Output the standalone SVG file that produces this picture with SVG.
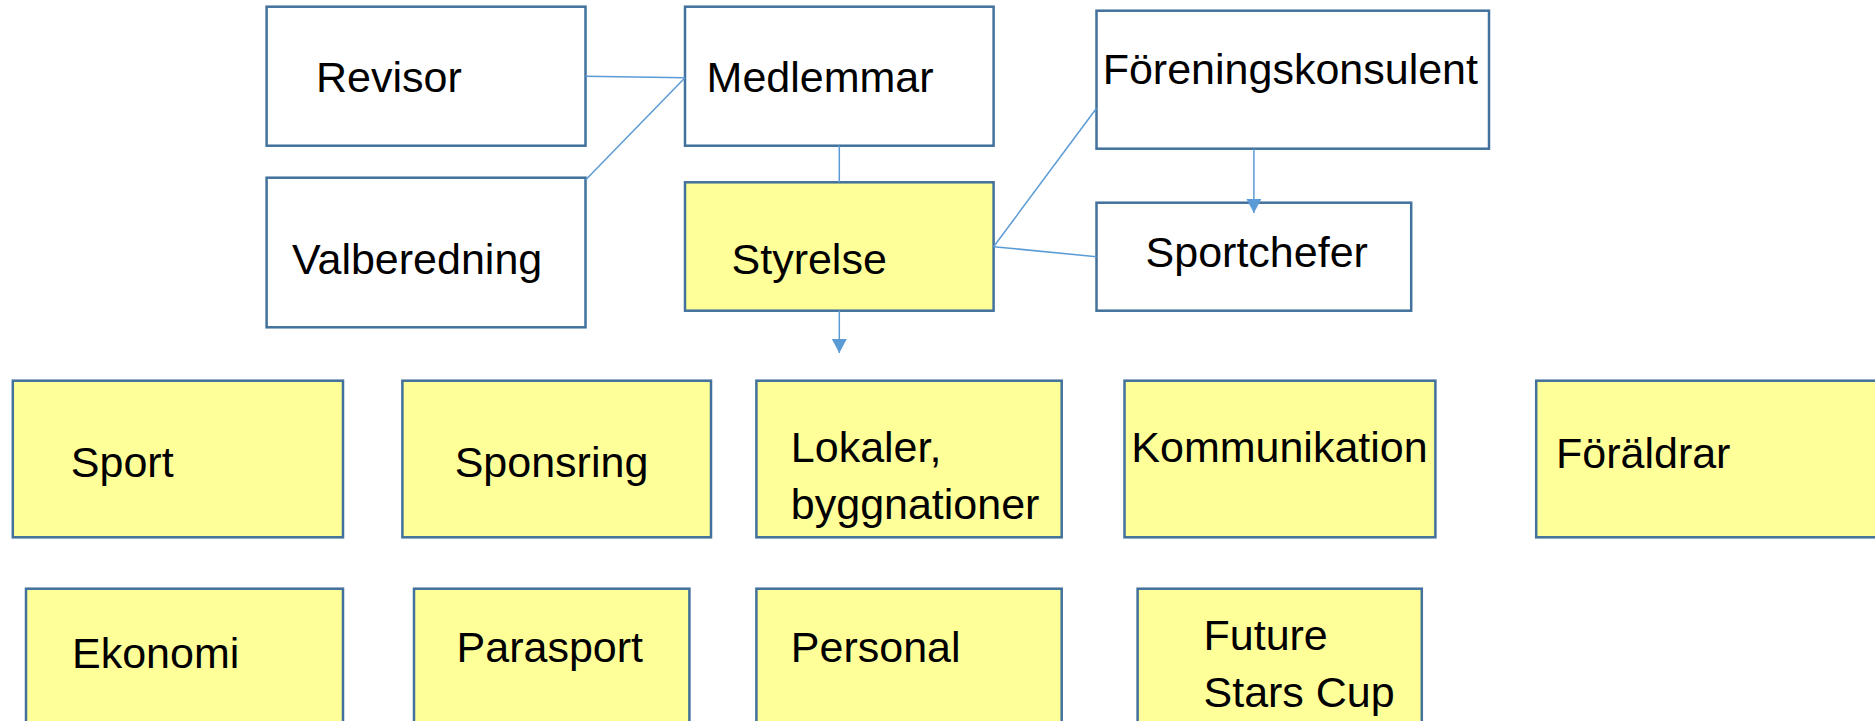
<svg xmlns="http://www.w3.org/2000/svg" width="1875" height="721" viewBox="0 0 1875 721">
<style>
.box{stroke:#41719C;stroke-width:2.5}
.w{fill:#FFFFFF}
.y{fill:#FFFF99}
.lbl{font-family:"Liberation Sans",Arial,sans-serif;font-size:43px;fill:#000000}
.con{stroke:#5B9BD5;stroke-width:1.5;fill:none}
</style>
<defs>
<marker id="arr" markerUnits="userSpaceOnUse" markerWidth="16" markerHeight="16" refX="14" refY="7.5" orient="auto">
<path d="M0,0 L14,7.5 L0,15 z" fill="#5B9BD5"/>
</marker>
</defs>
<rect width="1875" height="721" fill="#FFFFFF"/>
<g id="revisor"><rect class="box w" x="266.6" y="6.7" width="318.9" height="139"/><text class="lbl" x="316" y="92.3">Revisor</text></g>
<g id="medlemmar"><rect class="box w" x="685" y="6.7" width="308.6" height="139"/><text class="lbl" x="706.6" y="92.3">Medlemmar</text></g>
<g id="valberedning"><rect class="box w" x="266.6" y="177.7" width="318.9" height="149.6"/><text class="lbl" x="292" y="274">Valberedning</text></g>
<g id="styrelse"><rect class="box y" x="685" y="182.3" width="308.6" height="128.4"/><text class="lbl" x="731.5" y="274">Styrelse</text></g>
<g id="foreningskonsulent"><rect class="box w" x="1096.5" y="10.7" width="392.5" height="138"/><text class="lbl" x="1102.7" y="84">Föreningskonsulent</text></g>
<g id="sportchefer"><rect class="box w" x="1096.5" y="202.7" width="314.7" height="108"/><text class="lbl" x="1145.6" y="266.7">Sportchefer</text></g>
<g id="sport"><rect class="box y" x="12.8" y="380.7" width="330.2" height="156.6"/><text class="lbl" x="70.8" y="476.7">Sport</text></g>
<g id="sponsring"><rect class="box y" x="402.4" y="380.7" width="308.6" height="156.6"/><text class="lbl" x="454.7" y="476.7">Sponsring</text></g>
<g id="lokaler"><rect class="box y" x="756.4" y="380.7" width="305.3" height="156.6"/><text class="lbl" x="790.8" y="461.7">Lokaler,</text><text class="lbl" x="790.8" y="519.3">byggnationer</text></g>
<g id="kommunikation"><rect class="box y" x="1124.5" y="380.7" width="310.9" height="156.6"/><text class="lbl" x="1131.3" y="461.7">Kommunikation</text></g>
<g id="foraldrar"><rect class="box y" x="1536.2" y="380.7" width="350" height="156.6"/><text class="lbl" x="1556" y="468.3">Föräldrar</text></g>
<g id="ekonomi"><rect class="box y" x="26" y="588.7" width="317" height="150"/><text class="lbl" x="72" y="668.3">Ekonomi</text></g>
<g id="parasport"><rect class="box y" x="414" y="588.7" width="275.4" height="150"/><text class="lbl" x="456.6" y="661.7">Parasport</text></g>
<g id="personal"><rect class="box y" x="756.4" y="588.7" width="305.3" height="150"/><text class="lbl" x="790.8" y="661.7">Personal</text></g>
<g id="future"><rect class="box y" x="1137.6" y="588.7" width="284.2" height="150"/><text class="lbl" x="1203.5" y="650">Future</text><text class="lbl" x="1203.5" y="706.7">Stars Cup</text></g>
<g id="connectors">
<line class="con" x1="585.5" y1="76.3" x2="685" y2="77.7"/>
<line class="con" x1="585.5" y1="180" x2="685" y2="77.7"/>
<line class="con" x1="839.3" y1="145.7" x2="839.3" y2="182.3"/>
<line class="con" x1="839.3" y1="310.7" x2="839.3" y2="353" marker-end="url(#arr)"/>
<line class="con" x1="993.6" y1="246.7" x2="1096.5" y2="108.3"/>
<line class="con" x1="993.6" y1="246.7" x2="1096.5" y2="256.7"/>
<line class="con" x1="1253.9" y1="148.7" x2="1253.9" y2="213" marker-end="url(#arr)"/>
</g>
</svg>
